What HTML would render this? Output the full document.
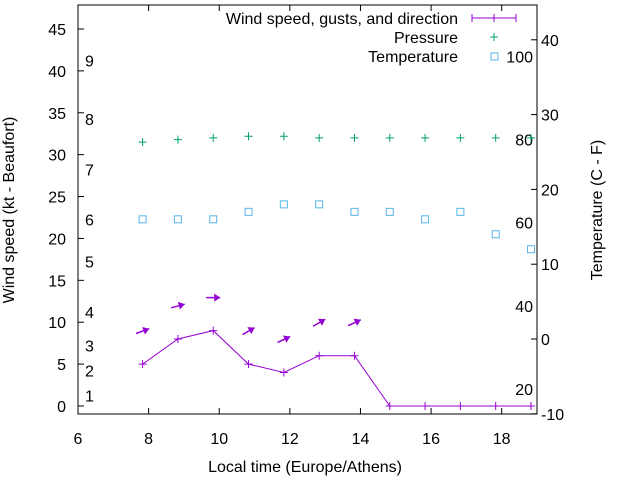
<!DOCTYPE html>
<html><head><meta charset="utf-8"><style>
body{margin:0;background:#fff}
svg text{font-family:"Liberation Sans",sans-serif;font-size:16px;fill:#000}
</style></head><body>
<svg width="640" height="480" viewBox="0 0 640 480" xmlns="http://www.w3.org/2000/svg">
<g id="g"></g>
</svg>
<script>
const hours=[7.83,8.83,9.83,10.83,11.83,12.83,13.83,14.83,15.83,16.83,17.83,18.83];
const windKt=[5,8,9,5,4,6,6,0,0,0,0,0];
const windDirAngle=[20,15,0,30,25,30,25,0,0,0,0,0];
const pressure=[31.5,31.8,32,32.2,32.2,32,32,32,32,32,32,32];
const tempC=[16,16,16,17,18,18,17,17,16,17,14,12];
const xTicks=[6,8,10,12,14,16,18];
const yTicks=[0,5,10,15,20,25,30,35,40,45];
const y2Ticks=[-10,0,10,20,30,40];
const beaufortKt=[1,4,7,11,17,22,28,34,41];
const fahrenheit=[20,40,60,80,100];
const L=78,R=537,T=5,B=414;
const X=h=>L+(h-6)*(R-L)/13;
const Y=k=>406-k*8.378;
const Y2=c=>339-c*7.48;
const g=document.getElementById('g');
const NS='http://www.w3.org/2000/svg';
function el(t,a,txt){const e=document.createElementNS(NS,t);for(const k in a)e.setAttribute(k,a[k]);if(txt!==undefined)e.textContent=txt;g.appendChild(e);return e;}
let e;
e=el('rect',{x:L,y:T,width:R-L,height:B-T,fill:'none',stroke:'#000','stroke-width':1});

xTicks.forEach(t=>{const x=X(t);
 el('line',{x1:x,y1:B,x2:x,y2:B-6,stroke:'#000'});el('line',{x1:x,y1:T,x2:x,y2:T+6,stroke:'#000'});
 e=el('text',{x:x,y:444,'text-anchor':'middle'},t);});
yTicks.forEach(t=>{const y=Y(t);
 el('line',{x1:L,y1:y,x2:L+6,y2:y,stroke:'#000'});
 e=el('text',{x:66,y:y+6,'text-anchor':'end'},t);});
y2Ticks.forEach(t=>{const y=Y2(t);
 el('line',{x1:R,y1:y,x2:R-6,y2:y,stroke:'#000'});
 e=el('text',{x:541,y:y+6},t);});
beaufortKt.forEach((k,i)=>{e=el('text',{x:85,y:Y(k)+4},i+1);});
fahrenheit.forEach(f=>{e=el('text',{x:533,y:Y2((f-32)*5/9)+6,'text-anchor':'end'},f);});
const col='#9400d3';
e=el('polyline',{points:hours.map((h,i)=>X(h)+','+Y(windKt[i])).join(' '),fill:'none',stroke:col,'stroke-width':1});

hours.forEach((h,i)=>{const x=X(h),y=Y(windKt[i]);
 e=el('path',{d:`M${x-4},${y}h8M${x},${y-4}v8`,stroke:col});
 if(windKt[i]>0){const yy=y-33,a=-windDirAngle[i]*Math.PI/180,c=Math.cos(a),s=Math.sin(a);
  const x0=x-7*c,y0=yy-7*s,x1=x+7*c,y1=yy+7*s;
  const p=(u,v)=>(x1+u*c-v*s)+','+(y1+u*s+v*c);
  e=el('g',{});
  const l=document.createElementNS(NS,'line');l.setAttribute('x1',x0);l.setAttribute('y1',y0);l.setAttribute('x2',x1);l.setAttribute('y2',y1);l.setAttribute('stroke',col);l.setAttribute('stroke-width',1.5);e.appendChild(l);
  const pg=document.createElementNS(NS,'polygon');pg.setAttribute('points',[p(0,0),p(-6,-4),p(-6,4)].join(' '));pg.setAttribute('fill',col);e.appendChild(pg);}
});
hours.forEach((h,i)=>{const x=X(h),y=Y(pressure[i]);
 e=el('path',{d:`M${x-4},${y}h8M${x},${y-4}v8`,stroke:'#009e73'});});
hours.forEach((h,i)=>{const x=X(h),y=Y2(tempC[i]);
 e=el('rect',{x:x-3.5,y:y-3.5,width:7,height:7,fill:'none',stroke:'#56b4e9'});});
const leg=[['Wind speed, gusts, and direction',18],['Pressure',37],['Temperature',56]];
leg.forEach((l,i)=>{e=el('text',{x:458,y:l[1]+6,'text-anchor':'end'},l[0]);});
el('path',{d:'M472,18h44M472,14v8M494,14v8M516,14v8',stroke:col});
el('path',{d:'M490,37h8M494,33v8',stroke:'#009e73'});
el('rect',{x:491,y:53,width:7,height:7,fill:'none',stroke:'#56b4e9'});
e=el('text',{x:305,y:472,'text-anchor':'middle'},'Local time (Europe/Athens)');
e=el('text',{x:14,y:210,'text-anchor':'middle',transform:'rotate(-90 14 210)'},'Wind speed (kt - Beaufort)');
e=el('text',{x:602,y:210,'text-anchor':'middle',transform:'rotate(-90 602 210)'},'Temperature (C - F)');
</script>
</body></html>
